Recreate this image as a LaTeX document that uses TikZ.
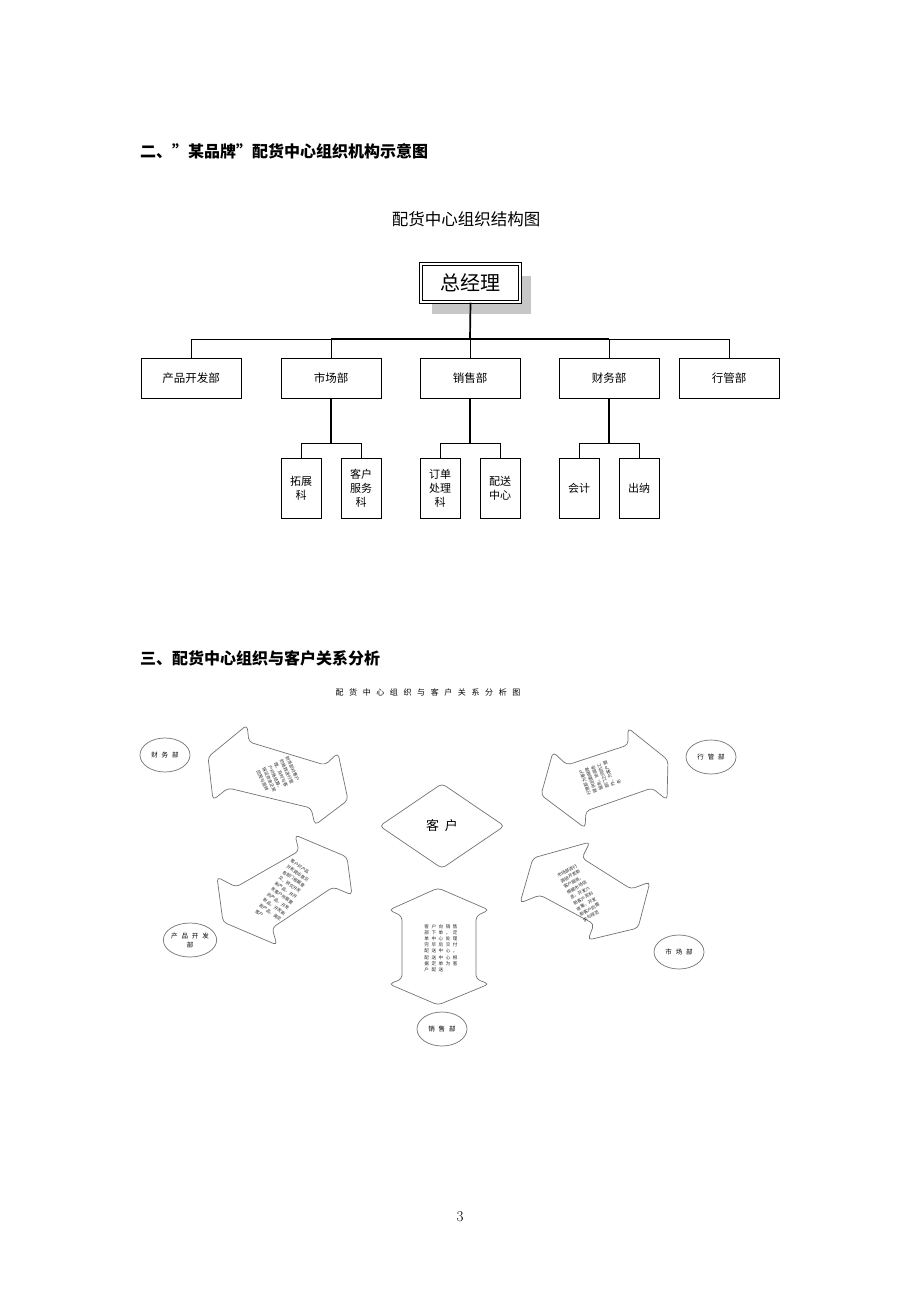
\documentclass[tikz,border=0pt]{standalone}
\usepackage{fontspec}
\newfontfamily\cjk{Noto Sans CJK SC}
\usetikzlibrary{shapes.geometric,shadows}

\begin{document}
\begin{tikzpicture}[x=1pt,y=-1pt,
  dept/.style={draw,line width=0.9,minimum width=100,minimum height=40,inner sep=0,
    font=\cjk\fontsize{11.5}{14}\selectfont},
  sect/.style={draw,line width=0.9,minimum width=40,minimum height=60,inner sep=0,align=center,
    font=\cjk\fontsize{11}{14}\selectfont},
  lite/.style={line width=0.8},
  heavy/.style={line width=1.7},
  hd/.style={anchor=west,inner sep=0,font=\cjk\bfseries\fontsize{16}{18}\selectfont},
  unit/.style={ellipse,draw=black!55,line width=0.7,minimum width=50,minimum height=34,inner sep=0,
    align=center,font=\cjk\fontsize{6.5}{9}\selectfont\addfontfeature{LetterSpace=60}},
  bigarrow/.style={draw=black!55,line width=0.7,rounded corners=4},
  note/.style={inner sep=0,align=left,text=black!85,font=\cjk\fontsize{4.4}{6.4}\selectfont},
]
\useasboundingbox[fill=white] (0,0) rectangle (920,1302);

% part two: organisation chart
\node[hd] (h1) at (140,151) {二、”某品牌”配货中心组织机构示意图};
\node[font=\cjk\fontsize{16.5}{18}\selectfont] (c1) at (466,219) {配货中心组织结构图};

\node[draw,line width=1.3,double=white,double distance=1.2,minimum width=99,minimum height=38,
  drop shadow={shadow xshift=11pt,shadow yshift=-12pt,fill=black!22,opacity=1},fill=white,
  font=\cjk\fontsize{20}{22}\selectfont] (gm) at (470.5,283) {总经理};

\node[dept] (d1) at (191,378) {产品开发部};
\node[dept] (d2) at (331,378) {市场部};
\node[dept] (d3) at (470,378) {销售部};
\node[dept] (d4) at (609,378) {财务部};
\node[dept] (d5) at (729,378) {行管部};

\node[sect] (s1) at (301,488) {拓展\\科};
\node[sect] (s2) at (361,488) {客户\\服务\\科};
\node[sect] (s3) at (440,488) {订单\\处理\\科};
\node[sect] (s4) at (500,488) {配送\\中心};
\node[sect] (s5) at (579,488) {会计};
\node[sect] (s6) at (639,488) {出纳};

\coordinate (bus) at (470,339);
\coordinate (j2) at (331,443);
\coordinate (j3) at (470,443);
\coordinate (j4) at (609,443);

\foreach \d in {d1,d2,d3,d4,d5}
  \draw[lite] (bus) -| (\d.north);
\draw[heavy] (gm.south) -- (bus);
\draw[heavy] (d2.north |- bus) -- (d4.north |- bus);

\draw[heavy] (d2.south) -- (j2);
\draw[heavy] (d3.south) -- (j3);
\draw[heavy] (d4.south) -- (j4);
\draw[lite] (j2) -| (s1.north); \draw[lite] (j2) -| (s2.north);
\draw[lite] (j3) -| (s3.north); \draw[lite] (j3) -| (s4.north);
\draw[lite] (j4) -| (s5.north); \draw[lite] (j4) -| (s6.north);

% part three: relations with the customer
\node[hd] (h2) at (140,658) {三、配货中心组织与客户关系分析};
\node[font=\cjk\fontsize{8}{10}\selectfont\addfontfeature{LetterSpace=70}] (c2) at (428,692)
  {配货中心组织与客户关系分析图};

\node[diamond,draw=black!55,line width=0.7,rounded corners=4,minimum width=125,minimum height=85,
  inner sep=0,font=\cjk\fontsize{13}{15}\selectfont\addfontfeature{LetterSpace=45}] (kh) at (442,826) {客户};

\node[unit] (u1) at (165,755) {财务部};
\node[unit] (u2) at (711,757) {行管部};
\node[unit] (u3) at (190,940) {产品开发\\部};
\node[unit] (u4) at (679,952) {市场部};
\node[unit] (u5) at (442,1029) {销售部};

% double arrows
\draw[bigarrow] (208,757) -- (247,725) -- (249,742) -- (325,765) -- (338,753) -- (348,800)
  -- (315,825) -- (311,808) -- (228,788) -- (213,800) -- cycle;
\draw[bigarrow] (541,795) -- (553,752) -- (567,765) -- (628,745) -- (628,728) -- (668,760)
  -- (667,800) -- (652,788) -- (586,811) -- (585,828) -- cycle;
\draw[bigarrow] (223,922) -- (217,877) -- (236,887) -- (299,851) -- (295,835) -- (347,857)
  -- (352,895) -- (333,887) -- (272,928) -- (277,945) -- cycle;
\draw[bigarrow] (533,858) -- (590,842) -- (582,858) -- (631,889) -- (650,882) -- (638,928)
  -- (588,940) -- (594,924) -- (540,895) -- (520,903) -- cycle;
\draw[bigarrow] (438,888) -- (489,910) -- (476,916) -- (476,979) -- (489,984) -- (438,1005)
  -- (389,984) -- (402,979) -- (402,916) -- (389,910) -- cycle;

\node[note,rotate=-65] (t1) at (278,776) {财务部对客户\\的账款进行管\\理，及时与客\\户对账结算，\\保证资金正常\\回笼与周转};
\node[note,rotate=110] (t2) at (600,777) {行管部为客户\\提供后勤保障\\服务，协调各\\部门之间的工\\作，为客户服\\务};
\node[note,rotate=-35,font=\cjk\fontsize{4.3}{6.8}\selectfont] (t3) at (284,893) {客户对产品\\开发提出意见\\各部门根据意\\见，研究开发\\新产品，并开\\发客户所需要\\的产品，开发\\新品，开发新\\款产品，满足\\客户};
\node[note,rotate=30] (t4) at (580,893) {市场部进行\\调研开发新\\客户服务，\\根据市场信\\息，开发六\\新客户资料\\收集，开发\\新客户的需\\求与规范};
\node[note,font=\cjk\fontsize{4.6}{6.2}\selectfont\addfontfeature{LetterSpace=55}] (t5) at (441,948)
  {客户向销售\\部下单，定\\单中心处理\\完毕后交付\\配送中心，\\配送中心根\\据定单为客\\户配送};

\node[font=\fontsize{15}{18}\selectfont] (pg) at (460,1217) {3};
\end{tikzpicture}
\end{document}
